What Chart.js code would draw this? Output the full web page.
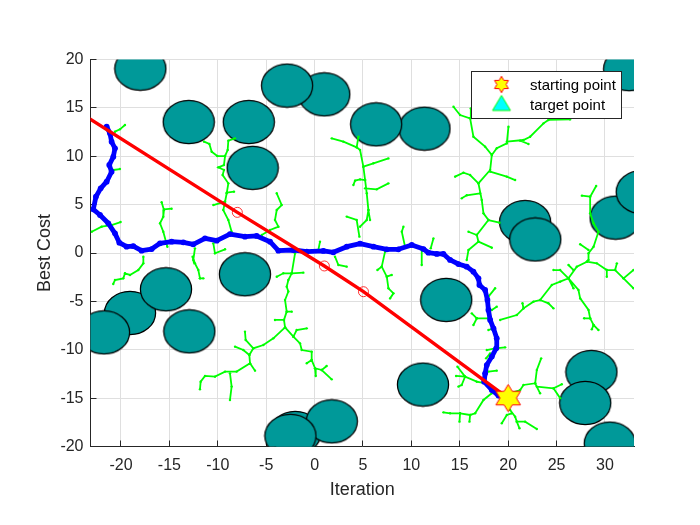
<!DOCTYPE html>
<html>
<head>
<meta charset="utf-8">
<style>
  html, body { margin: 0; padding: 0; background: #fff; }
  #wrap { width: 700px; height: 525px; }
</style>
<script src="https://cdn.jsdelivr.net/npm/chart.js@4/dist/chart.umd.js"></script>
</head>
<body>
<div id="wrap"><canvas id="chart" width="700" height="525"></canvas></div>
<script>
const xTicks = [-20, -15, -10, -5, 0, 5, 10, 15, 20, 25, 30];
const yTicks = [-20, -15, -10, -5, 0, 5, 10, 15, 20];

// obstacles, later ones sit on top
const obstacleX = [-18, -13, -6.8, -6.4, 1, -2.84, 11.35, 6.36, 32.5, 31.1, 33.8, 21.75, 22.8, -7.2, -19.07, -15.35, -21.75, -12.94, -2, 1.78, -2.5, 13.6, 11.2, 28.6, 27.96, 30.5];
const obstacleY = [19.05, 13.54, 13.54, 8.8, 16.4, 17.3, 12.85, 13.3, 19, 3.65, 6.3, 3.2, 1.4, -2.2, -6.2, -3.75, -8.2, -8.1, -18.6, -17.4, -18.9, -4.85, -13.6, -12.3, -15.5, -19.7];

// coarse path, through the waypoints
const guideX = [20, 5.05, 1.01, -7.98, -25];
const guideY = [-15, -4, -1.34, 4.2, 15];
const waypointX = [5.05, 1.01, -7.98];
const waypointY = [-4, -1.34, 4.2];

const startX = [20];
const startY = [-15];
const targetX = [-25];
const targetY = [15];

// smoothed best path
const pathX = [20, 19, 18.31, 17.52, 17.62, 17.79, 18.31, 18.76, 18.82, 18.48, 18.14, 17.96, 17.86, 17.62, 17.03, 16.93, 16.41, 15.72, 14.86, 14, 13.31, 12.62, 11.76, 11.25, 10.04, 8.66, 7.46, 6.08, 4.7, 3.32, 1.94, 0.91, -0.81, -2.19, -3.74, -4.6, -5.98, -7.19, -8.74, -10.11, -11.32, -12.53, -13.56, -14.77, -15.97, -16.83, -17.87, -18.73, -19.42, -20.17, -20.62, -21.31, -22.17, -22.86, -22.59, -22.1, -21.48, -20.97, -21.21, -20.79, -20.62, -20.97, -21.14, -21.48];
const pathY = [-15, -14.74, -14.16, -13.3, -12.44, -11.58, -10.71, -9.85, -8.82, -7.79, -6.92, -5.89, -4.86, -3.82, -3.31, -2.62, -1.93, -1.41, -1.14, -0.72, -0.1, -0.1, 0.03, 0.41, 0.83, 0.38, 0.38, 0.65, 0.96, 0.65, 0.07, 0.21, 0.14, 0.31, 0.24, 1.17, 1.76, 1.69, 1.96, 1.27, 1.52, 0.9, 1.1, 1.17, 1, 0.41, 0.24, 0.72, 0.65, 1.07, 2.03, 3.07, 3.93, 4.51, 5.82, 6.68, 7.37, 8.4, 9.1, 9.96, 10.82, 11.5, 12.37, 13.06];

// sampled tree, null ends a branch
const treeX = [
  -19.59, -20.11, -20.62, null,
  -20.11, -20.79, null,
  -23.03, -22, -20.97, -20.04, null,
  -15.8, -15.56, -15.63, -15.97, -15.63, -15.21, null,
  -15.56, -14.77, null,
  -8.22, -8.91, -8.98, -9.25, -9.36, -9.94, -9.36, -9.5, -8.91, -9.08, -9.25, -9.43, -8.91, -8.57, null,
  -11.42, -10.87, -10.63, -10.05, -9.25, null,
  -10.46, -9.25, null,
  -9.08, -8.32, null,
  -3.91, -3.4, -3.91, -4.09, -3.74, -4.6, -5.46, null,
  -12.36, -12.53, -12.6, -12.36, -12.01, -11.84, null,
  -11.84, -11.49, null,
  -10.46, -10.29, -9.25, null,
  -17.69, -17.69, -18.21, -19.07, -19.59, -19.76, -20.62, -20.8, null,
  -2.02, -2.36, -2.71, -2.88, -2.71, -3.05, -2.88, -3.16, -3.05, -2.19, -1.5, -1.33, -0.3, -0.3, 0.05, 0.74, 1.77, null,
  0.05, 0.12, null,
  0.74, 1.25, null,
  -2.36, -3.23, -3.91, null,
  -2.36, -1.16, null,
  -2.88, -2.36, null,
  -3.16, -4.09, null,
  -2.19, -1.85, -0.81, null,
  -0.81, -0.3, null,
  -3.05, -4.26, -5.29, -6.33, -6.74, -6.67, -8.05, -9.25, -10.29, -11.32, -11.77, -11.84, null,
  -6.33, -7.12, -7.19, null,
  -6.74, -7.36, -8.22, null,
  -6.67, -6.15, null,
  -8.74, -8.57, -8.74, null,
  2.11, 2.46, 3.32, null,
  0.56, 0.39, null,
  3.32, 4.35, 4.63, null,
  1.77, 2.98, 4.35, 4.7, 5.04, 5.22, 5.39, 5.56, 5.39, 4.7, null,
  4.53, 4.35, null,
  5.04, 6.08, 7.63, null,
  5.22, 6.42, 7.63, null,
  4.01, 4.18, 4.7, 5.22, null,
  5.56, 5.73, null,
  9.18, 9.01, 9.35, null,
  12.28, 12, null,
  11.07, 11.07, null,
  7.28, 6.94, 7.46, 7.63, 8.15, 7.8, null,
  6.94, 6.49, null,
  7.46, 7.97, null,
  14.35, 15.03, 16.07, 16.41, 17.62, 18.31, 18.14, 16.93, 17.27, 17.45, 17.96, 16.76, 16.93, 15.9, 15.72, null,
  16.07, 16.14, null,
  18.31, 18.82, 19.86, 20.03, null,
  19.86, 21.58, 22.27, 23.65, 24.16, 26.4, null,
  21.24, 22.1, null,
  18.14, 19.86, 20.72, null,
  16.93, 16.07, 15.38, 14.52, null,
  17.1, 15.72, 15.2, null,
  17.96, 19.1, null,
  16.76, 15.9, null,
  16.93, 18.31, null,
  29.09, 28.47, 28.47, 28.82, 29.33, 28.82, 28.3, 28.3, 28.13, 27.09, 26.23, 25.37, 24.51, 23.3, 22.61, 21.58, 20.89, 19.17, null,
  28.47, 27.61, null,
  28.3, 27.44, null,
  23.3, 24.16, 24.68, null,
  21.58, 21.48, null,
  26.23, 27.26, 27.44, 28.3, 28.47, 28.82, 29.33, null,
  28.47, 27.85, null,
  28.82, 28.64, null,
  26.23, 25.37, 24.68, null,
  26.75, 26.23, null,
  26.23, 26.75, null,
  28.13, 29.16, 30.19, 31.05, 31.92, 32.95, null,
  30.19, 30.19, null,
  31.05, 31.23, null,
  31.92, 32.95, null,
  18.65, 17.96, null,
  18.82, 18.31, null,
  17.96, 16.76, 16.24, null,
  16.76, 16.41, null,
  17.96, 18.48, null,
  17.79, 18.65, 19.69, null,
  17.72, 18.14, null,
  17.96, 18.82, null,
  17.62, 16.76, 15.55, 14.62, null,
  15.55, 15.2, 14.86, null,
  15.55, 14.76, null,
  18.31, 17.45, 16.59, 16.07, 15.03, 14, 13.31, null,
  16.07, 16, null,
  15.03, 14.97, null,
  20.2, 20.72, 20.89, 21.75, 22.96, null,
  20.37, 19.86, 19.34, null,
  20.89, 21.17, null,
  20.2, 21.24, 21.58, 22.79, 22.96, 23.41, null,
  22.79, 23.3, null,
  22.96, 24.68, 25.54, null,
  24.68, 25.37
];
const treeY = [
  13.23, 12.78, 12.54, null,
  8.68, 8.58, null,
  2.2, 2.72, 2.89, 3.2, null,
  5.24, 4.44, 3.75, 3.07, 2.2, 0.65, null,
  4.51, 4.58, null,
  11.85, 11.61, 10.64, 10.02, 9.09, 8.85, 8.58, 8.06, 7.2, 6.17, 5.3, 4.44, 3.41, 2.2, null,
  11.51, 11.27, 10.47, 10.02, 10.02, null,
  4.96, 5.3, null,
  6.24, 6.34, null,
  6.17, 4.96, 4.44, 3.41, 2.72, 2.38, 1.86, null,
  0.48, -0.72, -0.38, -1.07, -1.76, -2.62, null,
  -2.62, -2.62, null,
  1, -0.03, 0.38, null,
  -0.38, -1.07, -1.76, -2.27, -2.1, -2.62, -2.79, -3.2, null,
  -0.03, -2.1, -2.79, -3.48, -3.98, -4.86, -6.06, -6.92, -7.68, -8.65, -9.34, -10.03, -10.2, -11.06, -11.92, -12.09, -13.06, null,
  -11.92, -12.71, null,
  -12.09, -11.68, null,
  -2.1, -2.1, -2.45, null,
  -2.1, -2.03, null,
  -6.06, -6.06, null,
  -6.92, -6.92, null,
  -8.65, -7.96, -7.79, null,
  -11.4, -11.06, null,
  -7.68, -8.82, -9.51, -9.85, -10.54, -11.4, -12.26, -12.26, -12.78, -12.71, -13.3, -14.09, null,
  -9.85, -8.99, -8.13, null,
  -10.54, -10.03, -9.68, null,
  -11.4, -12.16, null,
  -12.44, -13.81, -15.19, null,
  -0.38, -1.24, -1.41, null,
  1.17, 0.31, null,
  3.76, 3.41, 1.69, null,
  11.85, 11.51, 10.92, 10.65, 8.92, 7.54, 6.17, 4.44, 3.41, 2.72, null,
  12.02, 10.92, null,
  8.92, 9.27, 9.78, null,
  6.68, 6.58, 7.2, null,
  7.03, 7.48, 7.61, 7.54, null,
  4.44, 3.41, null,
  2.72, 2.2, 0.65, null,
  1.51, 0.48, null,
  0.31, -1.24, null,
  0.14, -1.41, -2.45, -3.65, -4.17, -4.69, null,
  -1.41, -1.76, null,
  -2.45, -2.27, null,
  15.12, 14.26, 13.92, 12.02, 10.99, 10.13, 8.58, 7.2, 5.48, 4.1, 3.41, 1.86, 1.17, 0.31, -0.72, null,
  13.92, 14.95, null,
  10.13, 10.82, 11.33, 13.06, null,
  11.51, 11.68, 12.02, 13.4, 13.75, 13.81, null,
  11.61, 11.27, null,
  8.41, 7.89, 7.54, null,
  7.2, 8.06, 8.3, 7.89, null,
  6.17, 5.97, 5.65, null,
  3.41, 3.13, null,
  1.86, 2.2, null,
  1.17, 0.55, null,
  6.92, 5.82, 4.1, 3.07, 2.2, 0.65, -0.03, -0.72, -0.9, -1.41, -2.62, -2.96, -3.31, -4.86, -5.03, -5.72, -6.41, -6.92, null,
  5.82, 5.93, null,
  0.31, 0.9, null,
  -4.86, -5.2, -5.72, null,
  -5.72, -5.2, null,
  -2.62, -3.82, -4.69, -5.89, -6.75, -7.44, -7.96, null,
  -6.75, -6.75, null,
  -7.44, -7.89, null,
  -2.62, -1.76, -1.76, null,
  -1.76, -1.24, null,
  -2.62, -3.65, null,
  -0.9, -1.07, -1.76, -1.76, -2.62, -3.65, null,
  -1.76, -2.45, null,
  -1.76, -1.07, null,
  -2.62, -1.76, null,
  -3.65, -4.51, null,
  -5.55, -5.89, null,
  -6.75, -6.75, -6.24, null,
  -6.75, -7.44, null,
  -7.96, -7.79, null,
  -10.03, -9.85, -9.75, null,
  -10.89, -10.37, null,
  -12.26, -12.16, null,
  -13.47, -13.3, -12.78, -12.71, null,
  -12.78, -13.64, -13.81, null,
  -12.78, -11.75, null,
  -14.5, -15.19, -16.57, -16.74, -16.57, -16.57, -16.47, null,
  -16.74, -17.43, null,
  -16.57, -17.43, null,
  -16.23, -16.92, -17.43, -17.43, -18.19, null,
  -16.57, -16.74, -17.6, null,
  -17.43, -18.12, null,
  -14.5, -14.16, -13.64, -13.47, -12.09, -10.89, null,
  -13.47, -14.5, null,
  -13.81, -13.99, -13.57, null,
  -13.99, -15
];

const legendLabels = ['starting point', 'target point'];

const toPoints = (xs, ys) => xs.map((x, i) => ({ x: x, y: ys[i] }));

function makeMarker(w, h, drawShape) {
  const c = document.createElement('canvas');
  c.width = w;
  c.height = h;
  drawShape(c.getContext('2d'), w / 2, h / 2);
  return c;
}

function ellipseMarker() {
  return makeMarker(54, 46, (g, cx, cy) => {
    g.beginPath();
    g.ellipse(cx, cy, 25.6, 21.7, 0, 0, Math.PI * 2);
    g.fillStyle = '#009999';
    g.fill();
    g.strokeStyle = '#000';
    g.lineWidth = 1.25;
    g.stroke();
  });
}

function starMarker(rx, ry) {
  return makeMarker(Math.ceil(rx * 2) + 4, Math.ceil(ry * 2) + 4, (g, cx, cy) => {
    g.beginPath();
    for (let i = 0; i < 12; i++) {
      const a = -Math.PI / 2 + i * Math.PI / 6;
      const r = i % 2 ? 0.577 : 1;
      const px = cx + Math.cos(a) * r * rx;
      const py = cy + Math.sin(a) * r * ry;
      if (i) g.lineTo(px, py); else g.moveTo(px, py);
    }
    g.closePath();
    g.fillStyle = '#ffff00';
    g.fill();
    g.strokeStyle = '#ff0000';
    g.lineWidth = 1;
    g.stroke();
  });
}

function triangleMarker() {
  return makeMarker(22, 19, (g, cx, cy) => {
    g.beginPath();
    g.moveTo(cx, cy - 7.5);
    g.lineTo(cx + 9, cy + 7.5);
    g.lineTo(cx - 9, cy + 7.5);
    g.closePath();
    g.fillStyle = '#00ffff';
    g.fill();
    g.strokeStyle = '#00ff00';
    g.lineWidth = 1;
    g.stroke();
  });
}

const legendStar = starMarker(8, 8.2);
const legendTriangle = triangleMarker();

// the matlab style boxed legend
const boxedLegend = {
  id: 'boxedLegend',
  afterDraw(chart) {
    const g = chart.ctx;
    g.save();
    g.fillStyle = '#fff';
    g.fillRect(471.5, 71.5, 150, 47);
    g.strokeStyle = '#262626';
    g.lineWidth = 1;
    g.strokeRect(471.5, 71.5, 150, 47);
    g.drawImage(legendStar, 501.5 - legendStar.width / 2, 84.5 - legendStar.height / 2);
    g.drawImage(legendTriangle, 501.5 - legendTriangle.width / 2, 103 - legendTriangle.height / 2);
    g.fillStyle = '#000';
    g.font = '15px "Liberation Sans"';
    g.textBaseline = 'middle';
    g.textAlign = 'left';
    g.fillText(legendLabels[0], 530, 86);
    g.fillText(legendLabels[1], 530, 106);
    g.restore();
  }
};

new Chart(document.getElementById('chart'), {
  type: 'scatter',
  data: {
    datasets: [
      {
        data: toPoints(obstacleX, obstacleY),
        pointStyle: ellipseMarker(),
        pointRadius: 30,
        showLine: false,
        clip: 0,
        order: 6
      },
      {
        data: toPoints(treeX, treeY),
        showLine: true,
        spanGaps: false,
        borderColor: '#00ff00',
        backgroundColor: '#00ff00',
        borderWidth: 1.8,
        pointRadius: 1.2,
        pointBorderWidth: 0,
        clip: 0,
        order: 5
      },
      {
        data: toPoints(pathX, pathY),
        showLine: true,
        borderColor: '#0000ff',
        backgroundColor: '#0000ff',
        borderWidth: 4.8,
        borderJoinStyle: 'round',
        borderCapStyle: 'round',
        pointRadius: 2.9,
        pointBorderWidth: 0,
        clip: 0,
        order: 4
      },
      {
        data: toPoints(guideX, guideY),
        showLine: true,
        borderColor: '#ff0000',
        borderWidth: 3.4,
        pointRadius: 0,
        clip: 0,
        order: 3
      },
      {
        data: toPoints(waypointX, waypointY),
        showLine: false,
        pointRadius: 5,
        pointBackgroundColor: 'rgba(0,0,0,0)',
        pointBorderColor: '#ff0000',
        pointBorderWidth: 0.8,
        clip: 0,
        order: 2
      },
      {
        data: toPoints(startX, startY),
        pointStyle: starMarker(14.2, 13.6),
        pointRadius: 14,
        showLine: false,
        clip: 0,
        order: 1
      },
      {
        data: toPoints(targetX, targetY),
        pointStyle: 'triangle',
        pointRadius: 9,
        pointBackgroundColor: '#00ffff',
        pointBorderColor: '#00ff00',
        showLine: false,
        clip: 0,
        order: 0
      }
    ]
  },
  options: {
    responsive: false,
    animation: false,
    layout: { padding: { top: 59.5, right: 66, left: 30, bottom: 20 } },
    plugins: {
      legend: { display: false },
      tooltip: { enabled: false }
    },
    scales: {
      x: {
        type: 'linear',
        min: -23.15,
        max: 33,
        afterBuildTicks: (scale) => { scale.ticks = xTicks.map(v => ({ value: v })); },
        afterFit: (scale) => { scale.height = 58.5; },
        grid: { color: '#dfdfdf', lineWidth: 1, tickLength: -6, tickColor: '#262626', tickWidth: 1 },
        border: { color: '#262626', width: 1 },
        ticks: { color: '#262626', font: { family: 'Liberation Sans', size: 16 }, maxRotation: 0, padding: 15, autoSkip: false },
        title: { display: true, text: 'Iteration', color: '#262626', font: { family: 'Liberation Sans', size: 18 }, padding: { top: 4 } }
      },
      y: {
        type: 'linear',
        min: -20,
        max: 20,
        afterBuildTicks: (scale) => { scale.ticks = yTicks.map(v => ({ value: v })); },
        afterFit: (scale) => { scale.width = 60.5; },
        grid: { color: '#dfdfdf', lineWidth: 1, tickLength: -6, tickColor: '#262626', tickWidth: 1 },
        border: { color: '#262626', width: 1 },
        ticks: { color: '#262626', font: { family: 'Liberation Sans', size: 16 }, padding: 13, autoSkip: false },
        title: { display: true, text: 'Best Cost', color: '#262626', font: { family: 'Liberation Sans', size: 18 }, padding: { bottom: 4 } }
      }
    }
  },
  plugins: [boxedLegend]
});
</script>
</body>
</html>
